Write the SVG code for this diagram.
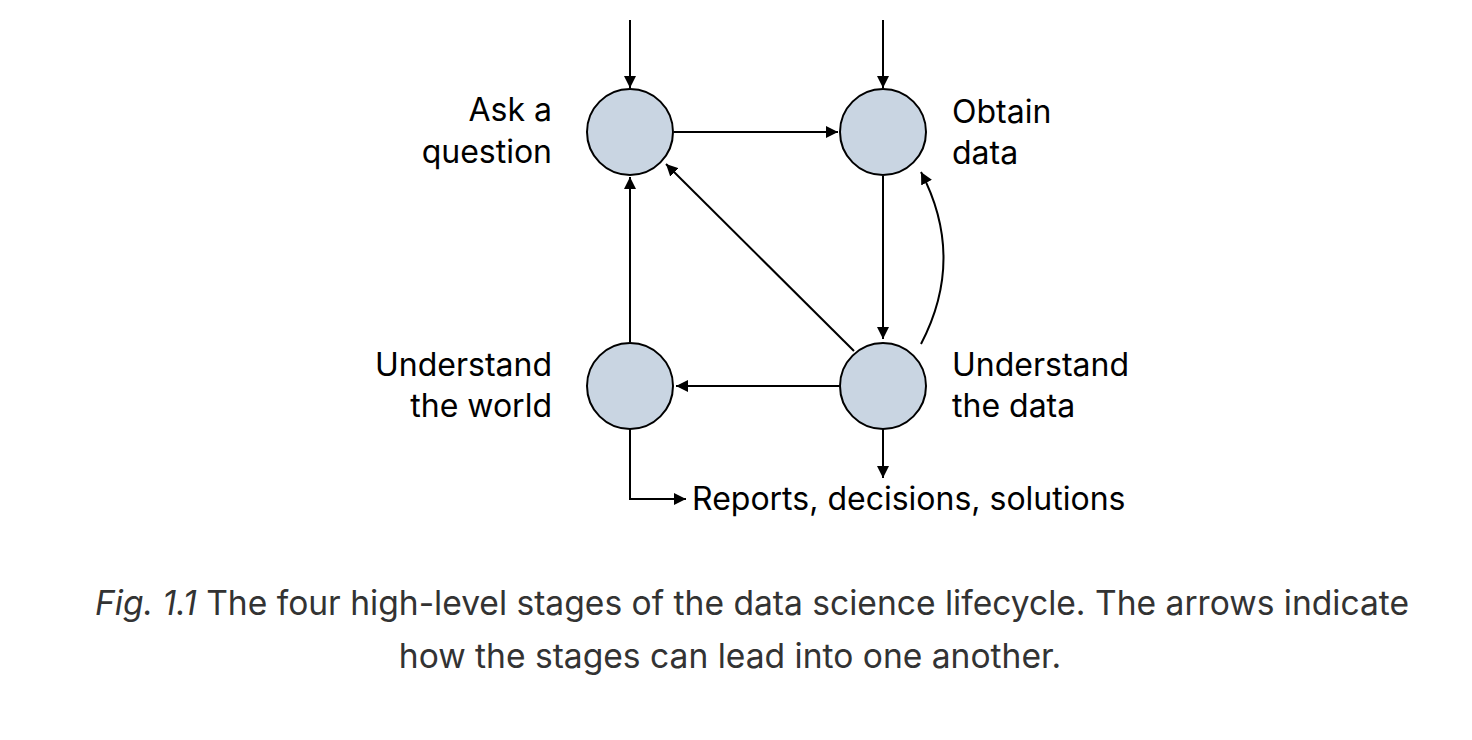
<svg xmlns="http://www.w3.org/2000/svg" width="1472" height="740" viewBox="0 0 1472 740">
<style>
.node{fill:#c9d5e2;stroke:#000;stroke-width:2}
.edge{fill:none;stroke:#000;stroke-width:2}
.lbl{font-family:Inter,"Liberation Sans",sans-serif;font-size:32px;fill:#000}
.r{text-anchor:end}
.cap{font-family:Inter,"Liberation Sans",sans-serif;font-size:33.6px;fill:#333;text-anchor:middle}
</style>
<defs>
<marker id="ah" viewBox="0 0 10 10" refX="10" refY="5" markerWidth="12" markerHeight="12" markerUnits="userSpaceOnUse" orient="auto">
<path d="M0,0 L10,5 L0,10 z" fill="#000"/>
</marker>
</defs>
<g id="connectors">
<line class="edge" x1="630" y1="20" x2="630" y2="88" marker-end="url(#ah)"/>
<line class="edge" x1="883" y1="20" x2="883" y2="88" marker-end="url(#ah)"/>
<line class="edge" x1="674" y1="132" x2="838" y2="132" marker-end="url(#ah)"/>
<line class="edge" x1="883" y1="176" x2="883" y2="339" marker-end="url(#ah)"/>
<line class="edge" x1="854" y1="351" x2="666" y2="164" marker-end="url(#ah)"/>
<path class="edge" d="M921,344 Q966,258 921,172" marker-end="url(#ah)"/>
<line class="edge" x1="839" y1="386" x2="676" y2="386" marker-end="url(#ah)"/>
<line class="edge" x1="630" y1="342" x2="630" y2="177" marker-end="url(#ah)"/>
<polyline class="edge" points="630,429 630,499 686,499" marker-end="url(#ah)"/>
<line class="edge" x1="883" y1="429" x2="883" y2="478" marker-end="url(#ah)"/>
</g>
<g id="ask">
<circle class="node" cx="630" cy="132" r="43"/>
<text class="lbl r" x="552" y="121">Ask a</text>
<text class="lbl r" x="552" y="163">question</text>
</g>
<g id="obtain">
<circle class="node" cx="883" cy="132" r="43"/>
<text class="lbl" x="952" y="123">Obtain</text>
<text class="lbl" x="952" y="164">data</text>
</g>
<g id="world">
<circle class="node" cx="630" cy="386" r="43"/>
<text class="lbl r" x="552" y="376">Understand</text>
<text class="lbl r" x="552" y="417">the world</text>
</g>
<g id="data">
<circle class="node" cx="883" cy="386" r="43"/>
<text class="lbl" x="952" y="376">Understand</text>
<text class="lbl" x="952" y="417">the data</text>
</g>
<g id="output">
<text class="lbl" x="692" y="510">Reports, decisions, solutions</text>
</g>
<g id="caption">
<text class="cap" x="752" y="615"><tspan font-style="italic">Fig. 1.1</tspan> The four high-level stages of the data science lifecycle. The arrows indicate</text>
<text class="cap" x="730" y="668">how the stages can lead into one another.</text>
</g>
</svg>
